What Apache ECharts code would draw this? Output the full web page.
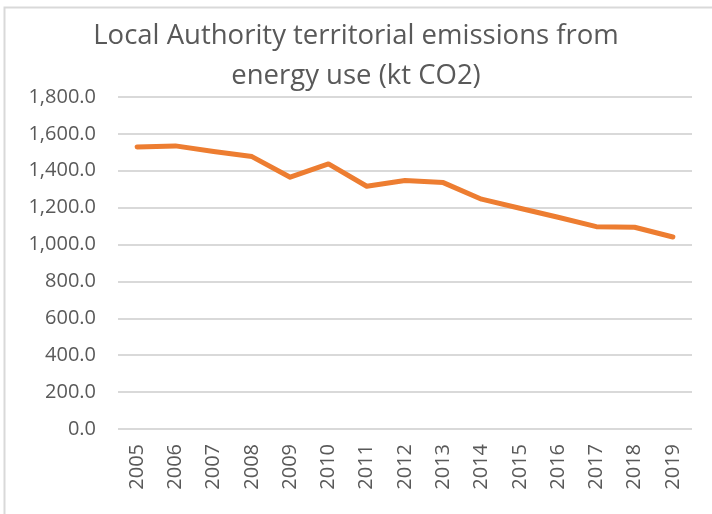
<!DOCTYPE html>
<html lang="en">
<head>
  <meta charset="UTF-8">
  <title>Local Authority territorial emissions</title>
  <style>
    html, body { margin: 0; padding: 0; background: #fff; }
  </style>
</head>
<body>
<div id="main" style="width: 712px;height:514px;"></div>
<script src="https://cdn.jsdelivr.net/npm/echarts@6/dist/echarts.min.js"></script>
<script type="text/javascript">
  const years = ['2005', '2006', '2007', '2008', '2009', '2010', '2011', '2012',
    '2013', '2014', '2015', '2016', '2017', '2018', '2019']
  const emissions = [1529, 1535, 1505, 1477, 1365, 1437, 1316, 1347,
    1336, 1246, 1197, 1148, 1097, 1094, 1041]

  const Chart = echarts.init(document.getElementById('main'))
  const font = 'Open Sans'

  const option = {
    animation: false,
    title: {
      text: 'Local Authority territorial emissions from\nenergy use (kt CO2)',
      left: 'center',
      top: 11,
      textStyle: {
        fontFamily: font,
        fontWeight: 'normal',
        fontSize: 27.5,
        lineHeight: 40,
        color: '#595959'
      }
    },
    graphic: [{
      type: 'rect',
      shape: { x: 4.5, y: 7.5, width: 720, height: 520 },
      style: { fill: 'none', stroke: '#d9d9d9', lineWidth: 2 },
      silent: true
    }],
    grid: {
      left: 118,
      right: 20,
      top: 97,
      bottom: 85
    },
    xAxis: {
      type: 'category',
      data: years,
      boundaryGap: true,
      axisLine: { show: false },
      axisTick: { show: false },
      axisLabel: {
        rotate: 90,
        margin: 15,
        fontFamily: font,
        fontSize: 20,
        color: '#595959'
      }
    },
    yAxis: {
      type: 'value',
      min: 0,
      max: 1800,
      interval: 200,
      axisLine: { show: false },
      axisTick: { show: false },
      splitLine: { lineStyle: { color: '#d9d9d9', width: 2 } },
      axisLabel: {
        margin: 22,
        fontFamily: font,
        fontSize: 20,
        color: '#595959',
        formatter: (v) => v.toLocaleString('en-US', { minimumFractionDigits: 1, maximumFractionDigits: 1 })
      }
    },
    series: [{
      name: 'emissions',
      type: 'line',
      data: emissions,
      symbol: 'none',
      lineStyle: { color: '#ed7d31', width: 5, cap: 'round', join: 'round' }
    }]
  }

  Chart.setOption(option)
</script>
</body>
</html>
